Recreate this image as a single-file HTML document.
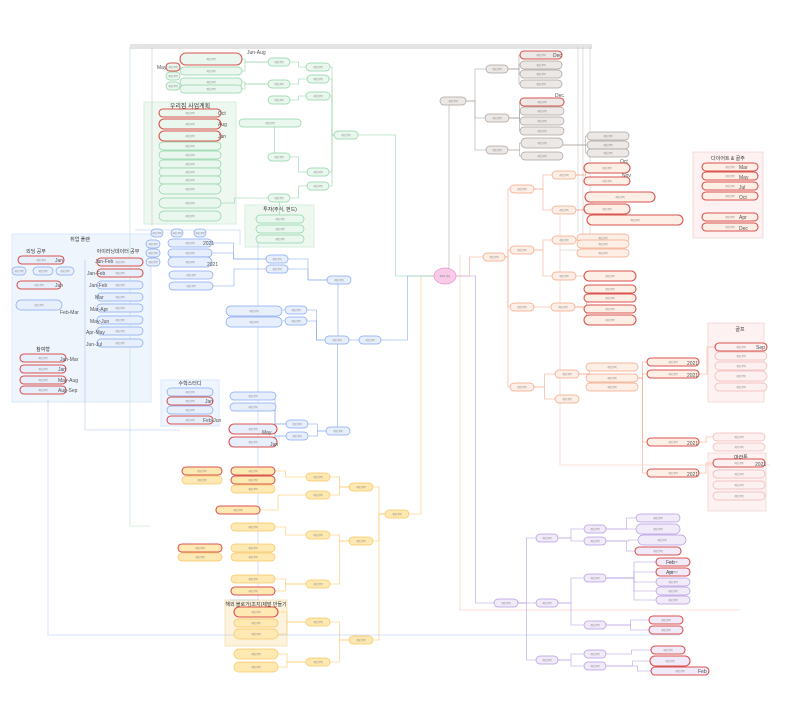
<!DOCTYPE html>
<html><head><meta charset="utf-8"><style>
html,body{margin:0;padding:0;background:#fff;width:800px;height:720px;overflow:hidden}
svg{display:block;font-family:"Liberation Sans","Noto Sans CJK KR",sans-serif}
</style></head><body>
<svg id="s" width="800" height="720" viewBox="0 0 800 720" xmlns="http://www.w3.org/2000/svg">
<rect x="130" y="44" width="462" height="5" fill="#e4e4e4"/>
<rect x="144" y="102" width="92" height="122" fill="#eef8f1" stroke="#d6eedd"/>
<text x="190" y="108" font-size="6" text-anchor="middle" fill="#333">우리집 사업계획</text>
<rect x="245" y="205" width="69" height="42" fill="#eef8f1" stroke="#d6eedd"/>
<text x="280" y="211" font-size="5" text-anchor="middle" fill="#333">투자(주식, 펀드)</text>
<rect x="12" y="234" width="139" height="168" fill="#eef5fd" stroke="#d9e7fb"/>
<text x="80" y="241" font-size="5" text-anchor="middle" fill="#333">취업 플랜</text>
<text x="36" y="253" font-size="5" text-anchor="middle" fill="#333">외딩 공부</text>
<text x="118" y="253" font-size="5" text-anchor="middle" fill="#333">아이러닝데이터 공부</text>
<text x="43" y="351" font-size="5" text-anchor="middle" fill="#333">참여형</text>
<rect x="161" y="380" width="58" height="46" fill="#eef5fd" stroke="#d9e7fb"/>
<text x="190" y="385" font-size="5" text-anchor="middle" fill="#333">수학스터디</text>
<rect x="693" y="152" width="70" height="86" fill="#fdf1f1" stroke="#f4dcdc"/>
<text x="728" y="160" font-size="5" text-anchor="middle" fill="#333">다이어트 &amp; 골주</text>
<rect x="708" y="323" width="56" height="79" fill="#fdf1f1" stroke="#f4dcdc"/>
<text x="740" y="331" font-size="5" text-anchor="middle" fill="#333">골프</text>
<rect x="708" y="453" width="58" height="58" fill="#fdf1f1" stroke="#f4dcdc"/>
<text x="741" y="459" font-size="5" text-anchor="middle" fill="#333">마라톤</text>
<rect x="225" y="600" width="62" height="46" fill="#fdf3dc" stroke="#f4e3bd"/>
<text x="256" y="606" font-size="5" text-anchor="middle" fill="#333">해외 블로거(조지)제발 만들기</text>
<g id="e" fill="none" stroke-width="0.8"></g>
<g id="n"></g>
<g id="t" font-size="5" fill="#555"></g>
</svg>
<script>
var T={g:['#eaf7ee','#8fd3a6'],k:['#ece8e6','#aaa29e'],o:['#fdeee6','#f3a585'],b:['#e8effc','#85a6f0'],y:['#ffe9b3','#f8c660'],p:['#f0eaf9','#b59be0'],r:['#fdf0f0','#f2b5b5']};
var N=[
[453,101,26,'k'],[497,69,22,'k'],[497,118,24,'k'],[497,150,22,'k'],
[541,55,42,'k',1],[541,65,42,'k'],[541,74,42,'k'],[541,84,42,'k'],
[542,102,44,'k',1],[542,111,44,'k'],[542,121,44,'k'],[542,131,44,'k'],
[542,143,42,'k',0,10],[542,156,42,'k'],
[608,136,42,'k'],[608,145,42,'k'],[608,153,42,'k'],
[494,257,22,'o'],[522,189,24,'o'],[522,250,24,'o'],[522,307,24,'o'],[522,387,24,'o'],
[564,175,24,'o'],[564,210,24,'o'],[564,240,24,'o'],[564,276,24,'o'],[563,307,24,'o'],[567,374,24,'o'],[567,399,24,'o'],
[607,168,46,'o',1,10],[607,181,46,'o',1],[620,197,70,'o',1,10],[607,209,46,'o',1,10],[635,220,96,'o',1,10],
[603,238,52,'o'],[603,244,52,'o'],[603,253,52,'o'],
[610,276,52,'o',1,10],[610,289,52,'o',1],[610,298,52,'o',1],[610,309,52,'o',1],[610,320,52,'o',1,10],
[612,367,52,'o'],[612,378,52,'o'],[612,387,52,'o'],
[673,362,52,'o',1],[673,374,52,'o',1],[673,442,52,'o',1],[673,473,52,'o',1],
[730,167,56,'o',1],[730,176,56,'o',1],[730,186,56,'o',1],[730,196,56,'o',1],[730,217,56,'o',1],[730,227,56,'o',1],
[741,347,52,'r',1],[741,356,52,'r'],[741,366,52,'r'],[741,376,52,'r',0,10],[741,387,52,'r'],
[739,437,52,'r'],[739,447,52,'r'],
[739,463,52,'r',1],[739,474,52,'r'],[739,485,52,'r'],[739,496,52,'r'],
[397,514,24,'y'],[361,487,24,'y'],[361,541,24,'y'],[361,640,24,'y'],
[318,477,24,'y'],[318,495,24,'y'],[318,535,24,'y'],[318,584,24,'y'],[318,622,24,'y'],[318,662,24,'y'],
[202,471,40,'y',1],[202,480,40,'y'],[253,471,44,'y',1],[253,480,44,'y',1],[253,489,44,'y'],[238,510,44,'y',1],
[253,527,44,'y'],[200,548,44,'y',1],[200,557,44,'y'],[253,548,44,'y'],[253,557,44,'y'],[253,579,44,'y'],[253,591,44,'y',1],
[256,612,44,'y',1,10],[256,623,44,'y'],[256,634,44,'y',0,10],[256,654,44,'y',0,10],[256,667,44,'y',0,10],
[506,603,24,'p'],[547,538,22,'p'],[547,603,22,'p'],[547,660,22,'p'],
[595,529,22,'p'],[595,541,22,'p'],[595,578,22,'p'],[595,625,22,'p'],[595,654,22,'p'],[595,666,22,'p'],
[658,518,44,'p'],[658,529,44,'p',0,10],[662,540,48,'p',0,10],[658,551,46,'p',1],
[673,562,34,'p',1],[673,572,34,'p',1],[673,582,34,'p'],[673,591,34,'p'],[673,600,34,'p'],
[666,620,34,'p',1],[666,630,34,'p',1],
[668,650,34,'p',1],[670,661,40,'p',1,10],[680,671,58,'p',1],
[370,340,22,'b'],[337,340,24,'b'],[339,280,24,'b'],[338,431,24,'b'],
[277,259,22,'b'],[277,269,22,'b'],[296,310,22,'b'],[296,321,22,'b'],[297,424,22,'b'],[297,436,22,'b'],
[254,311,56,'b',0,10],[254,322,56,'b',0,10],[253,396,46,'b'],[253,407,46,'b'],[253,429,48,'b',1,10],[253,442,48,'b',1,10],
[190,243,44,'b'],[190,253,44,'b'],[190,262,44,'b',0,10],[191,275,44,'b'],[191,286,44,'b'],
[153,244,14,'b'],[153,253,14,'b'],[153,262,14,'b'],[157,233,12,'b'],[177,233,12,'b'],[200,233,12,'b'],
[41,260,46,'b',1],[19,271,14,'b'],[43,271,20,'b'],[65,271,18,'b'],[39,285,44,'b',1],[39,305,46,'b',0,10],
[120,262,46,'b',1],[120,273,46,'b',1],[120,285,46,'b'],[120,297,46,'b'],[120,308,46,'b'],[120,320,46,'b'],[120,331,46,'b'],[120,343,46,'b'],
[43,358,46,'b',1],[43,369,46,'b',1],[43,380,46,'b',1],[43,390,46,'b',1],
[190,392,46,'b'],[190,401,46,'b',1],[190,410,46,'b'],[190,420,46,'b',1],
[346,135,24,'g'],[318,67,24,'g'],[318,79,22,'g'],[318,96,24,'g'],[318,172,22,'g'],[318,186,22,'g'],
[279,62,22,'g'],[279,84,22,'g'],[279,100,22,'g'],[279,157,22,'g'],[279,198,22,'g'],
[211,59,62,'g',1,12],[211,71,62,'g'],[211,82,62,'g'],[211,89,62,'g'],
[173,67,14,'g',1],[173,76,14,'g'],[173,86,14,'g'],
[270,123,62,'g',0,8],
[190,113,62,'g',1],[190,124,62,'g',1,10],[190,136,62,'g',1,10],[190,146,62,'g'],[190,155,62,'g'],[190,164,62,'g'],[190,172,62,'g'],[190,180,62,'g'],[190,189,62,'g',0,10],[190,203,62,'g',0,10],[190,216,62,'g',0,10],
[280,219,48,'g'],[280,229,48,'g'],[280,239,48,'g']
];
var E=[
[445,276,453,101,'k'],[453,101,497,69,'k'],[453,101,497,118,'k'],[453,101,497,150,'k'],
[497,69,541,55,'k'],[497,69,541,65,'k'],[497,69,541,74,'k'],[497,69,541,84,'k'],
[497,118,542,102,'k'],[497,118,542,111,'k'],[497,118,542,121,'k'],[497,118,542,131,'k'],
[497,150,542,143,'k'],[497,150,542,156,'k'],[563,145,608,136,'k'],[563,145,608,145,'k'],[563,145,608,153,'k'],
[445,276,494,257,'o'],[494,257,522,189,'o'],[494,257,522,250,'o'],[494,257,522,307,'o'],[494,257,522,387,'o'],
[522,189,564,175,'o'],[522,189,564,210,'o'],[522,250,564,240,'o'],[522,250,564,276,'o'],[522,307,563,307,'o'],[522,387,567,374,'o'],[522,387,567,399,'o'],
[564,175,607,168,'o'],[564,175,607,181,'o'],[564,210,620,197,'o'],[564,210,607,209,'o'],[564,210,635,220,'o'],
[564,240,603,238,'o'],[564,240,603,244,'o'],[564,240,603,253,'o'],
[564,276,610,276,'o'],[563,307,610,289,'o'],[563,307,610,298,'o'],[563,307,610,309,'o'],[563,307,610,320,'o'],
[567,374,612,367,'o'],[567,374,612,378,'o'],[567,374,612,387,'o'],
[612,378,673,362,'o'],[612,378,673,374,'o'],[612,378,673,442,'o'],[612,378,673,473,'o'],
[673,374,741,347,'o'],[673,442,739,437,'o'],[673,473,739,463,'o'],
[445,276,397,514,'y'],[397,514,361,487,'y'],[397,514,361,541,'y'],[397,514,361,640,'y'],
[361,487,318,477,'y'],[361,487,318,495,'y'],[361,541,318,535,'y'],[361,541,318,584,'y'],[361,640,318,622,'y'],[361,640,318,662,'y'],
[318,477,253,471,'y'],[318,495,238,510,'y'],[318,535,253,527,'y'],[318,584,253,579,'y'],[318,584,253,591,'y'],[318,622,256,612,'y'],[318,622,256,634,'y'],[318,662,256,654,'y'],[318,662,256,667,'y'],
[445,276,506,603,'p'],[506,603,547,538,'p'],[506,603,547,603,'p'],[506,603,547,660,'p'],
[547,538,595,529,'p'],[547,538,595,541,'p'],[547,603,595,578,'p'],[547,603,595,625,'p'],[547,660,595,654,'p'],[547,660,595,666,'p'],
[595,529,658,518,'p'],[595,529,658,529,'p'],[595,541,662,540,'p'],[595,541,658,551,'p'],
[595,578,673,562,'p'],[595,578,673,572,'p'],[595,578,673,582,'p'],[595,578,673,591,'p'],[595,578,673,600,'p'],
[595,625,666,620,'p'],[595,625,666,630,'p'],[595,654,668,650,'p'],[595,666,670,661,'p'],[595,666,680,671,'p'],
[445,276,370,340,'b'],[370,340,337,340,'b'],[337,340,339,280,'b'],[337,340,338,431,'b'],
[339,280,277,259,'b'],[339,280,277,269,'b'],[337,340,296,310,'b'],[337,340,296,321,'b'],[338,431,297,424,'b'],[338,431,297,436,'b'],
[296,310,254,311,'b'],[296,321,254,322,'b'],[297,424,253,396,'b'],[297,424,253,407,'b'],[297,436,253,429,'b'],[297,436,253,442,'b'],
[277,259,190,243,'b'],[277,259,190,253,'b'],[277,269,191,286,'b'],
[445,276,346,135,'g'],[346,135,318,67,'g'],[346,135,318,79,'g'],[346,135,318,96,'g'],[346,135,318,172,'g'],[346,135,318,186,'g'],
[318,67,279,62,'g'],[318,79,279,84,'g'],[318,96,279,100,'g'],[318,172,279,157,'g'],[318,186,279,198,'g'],
[279,62,211,59,'g'],[279,62,211,71,'g'],[279,84,211,82,'g'],[279,84,211,89,'g'],[279,157,270,123,'g'],[279,198,190,203,'g'],[279,198,280,219,'g']
];
var eg=document.getElementById('e'),ng=document.getElementById('n'),tg=document.getElementById('t'),ns='http://www.w3.org/2000/svg';
function el(t,a,p){var e=document.createElementNS(ns,t);for(var k in a)e.setAttribute(k,a[k]);p.appendChild(e);return e;}
E.forEach(function(d){var x1=d[0],y1=d[1],x2=d[2],y2=d[3],m=(x1+x2)/2;
 el('path',{d:'M'+x1+' '+y1+'H'+m+'V'+y2+'H'+x2,stroke:T[d[4]][1],opacity:0.7},eg);});
[['M130 47V526H150','g'],['M152 47V226','k'],['M590 47V250H560','k'],['M583 47V240','k'],['M578 47V232','k'],
 ['M48 400V635H680','b'],['M85 260V430H180','b'],['M258 240V600H230','b'],['M135 230H240V245','b'],
 ['M460 255V610H740','o'],['M560 215V465H770','o']
].forEach(function(p){el('path',{d:p[0],stroke:T[p[1]][1],opacity:0.45},eg);});
N.forEach(function(d){var cx=d[0],cy=d[1],w=d[2],h=d[5]||8,c=T[d[3]];
 el('rect',{x:cx-w/2,y:cy-h/2,width:w,height:h,rx:h/2,fill:c[0],stroke:d[4]?'#d9534f':c[1],'stroke-width':d[4]?1.1:0.7},ng);
 var t=el('text',{x:cx,y:cy+1,'font-size':2.4,'text-anchor':'middle',fill:'#777'},ng);t.textContent='계획 항목';});
el('ellipse',{cx:445,cy:276,rx:11,ry:8,fill:'#f9cbe9',stroke:'#e79ad0','stroke-width':0.8},ng);
var rt=el('text',{x:445,y:277,'font-size':2.5,'text-anchor':'middle',fill:'#777'},ng);rt.textContent='2021 목표';
[['Jun-Aug',247,54],['May',157,69],['Oct',218,115],['Aug',218,126],['Jan',218,138],['Dec',553,57],['Dec',555,97],['Oct',620,163],['Nov',622,177],
 ['Mar',739,169],['May',739,179],['Jul',739,189],['Oct',739,199],['Apr',739,219],['Dec',739,230],['Sep',756,349],
 ['2021',687,365],['2021',687,377],['2021',687,445],['2021',687,476],['2021',755,466],
 ['Jan',55,262],['Jan',55,287],['Feb-Mar',60,314],['Jan-Feb',95,263],['Jan-Feb',87,275],['Jan-Feb',89,287],['Mar',95,299],['Mar-Apr',90,311],['May-Jun',90,323],['Apr-May',86,334],['Jun-Jul',86,346],
 ['Jan-Mar',60,361],['Jan',58,371],['May-Aug',58,382],['Aug-Sep',58,392],['2021',203,245],['2021',207,266],['Jan',205,403],['Feb-Jun',203,422],['May',262,434],['Jan',270,446],
 ['Feb',666,564],['Apr',666,574],['Feb',698,673]
].forEach(function(l){var t=el('text',{x:l[1],y:l[2]},tg);t.textContent=l[0];});
</script>
</body></html>
